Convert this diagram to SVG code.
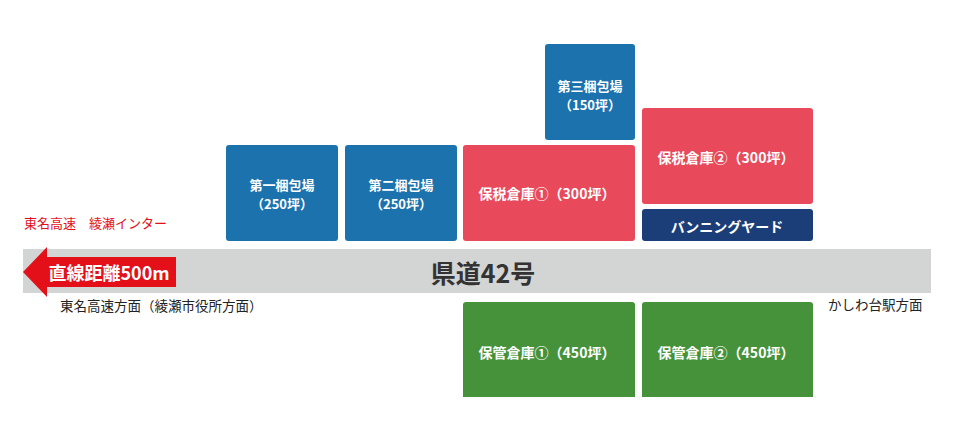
<svg xmlns="http://www.w3.org/2000/svg" width="956" height="445" viewBox="0 0 956 445">
<style>
text{font-family:"Noto Sans CJK JP","Noto Sans",sans-serif;}
.bt{fill:#fff;font-size:14px;font-weight:bold;text-anchor:middle;dominant-baseline:central;}
.bt2{fill:#fff;font-size:13px;font-weight:bold;text-anchor:middle;dominant-baseline:central;}
.blue{fill:#1b72ad;}
.red{fill:#e8495b;}
.navy{fill:#1b3e78;}
.green{fill:#46923a;}
.lbl{font-size:13.5px;fill:#222;dominant-baseline:central;}
</style>
<rect width="956" height="445" fill="#fff"/>
<g id="road">
<rect x="23" y="249" width="908" height="44" fill="#d3d4d4"/>
<text x="483" y="272" font-size="25" font-weight="bold" fill="#333" text-anchor="middle" dominant-baseline="central">県道42号</text>
</g>
<g id="arrow">
<polygon points="23,272 47,247 47,257 176,257 176,287 47,287 47,297" fill="#e3101a"/>
<text x="109" y="272" font-size="18" font-weight="bold" fill="#fff" text-anchor="middle" dominant-baseline="central">直線距離500m</text>
</g>
<g id="pack1"><rect class="blue" x="226" y="145" width="112" height="96" rx="3"/><text class="bt2" x="282" y="184.5">第一梱包場</text><text class="bt2" x="282" y="203.5">（250坪）</text></g>
<g id="pack2"><rect class="blue" x="345" y="145" width="112" height="96" rx="3"/><text class="bt2" x="401" y="184.5">第二梱包場</text><text class="bt2" x="401" y="203.5">（250坪）</text></g>
<g id="pack3"><rect class="blue" x="545" y="44" width="90" height="96" rx="3"/><text class="bt2" x="590" y="85.5">第三梱包場</text><text class="bt2" x="590" y="104.5">（150坪）</text></g>
<g id="bonded1"><rect class="red" x="463" y="145" width="172" height="96" rx="3"/><text class="bt" x="547" y="193">保税倉庫①（300坪）</text></g>
<g id="bonded2"><rect class="red" x="642" y="108" width="171" height="96" rx="3"/><text class="bt" x="726" y="157">保税倉庫②（300坪）</text></g>
<g id="vanning"><rect class="navy" x="642" y="209" width="171" height="32" rx="3"/><text class="bt" x="727" y="226">バンニングヤード</text></g>
<g id="storage1"><path class="green" d="M463,397 V305 a3,3 0 0 1 3,-3 H632 a3,3 0 0 1 3,3 V397 Z"/><text class="bt" x="547" y="352">保管倉庫①（450坪）</text></g>
<g id="storage2"><path class="green" d="M642,397 V305 a3,3 0 0 1 3,-3 H810 a3,3 0 0 1 3,3 V397 Z"/><text class="bt" x="726" y="352">保管倉庫②（450坪）</text></g>
<g id="labels">
<text x="24" y="222" font-size="13" fill="#e3101a" dominant-baseline="central">東名高速　綾瀬インター</text>
<text class="lbl" x="60" y="305">東名高速方面（綾瀬市役所方面）</text>
<text class="lbl" x="828" y="304">かしわ台駅方面</text>
</g>
<g id="connectors"></g>
</svg>
